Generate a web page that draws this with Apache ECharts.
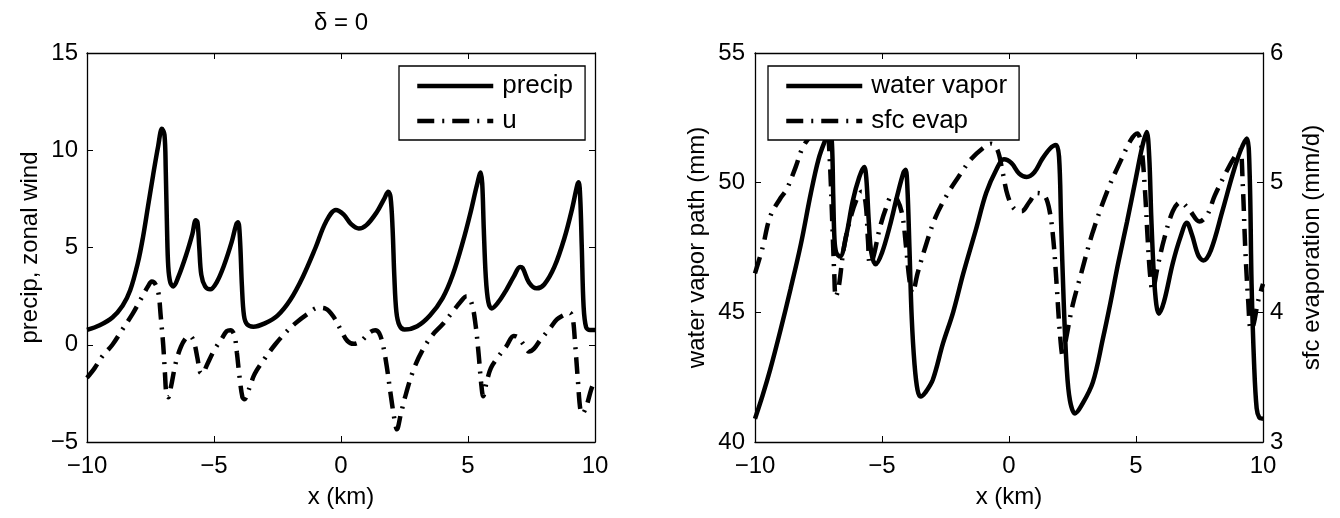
<!DOCTYPE html>
<html>
<head>
<meta charset="utf-8">
<script src="https://cdn.jsdelivr.net/npm/echarts@6/dist/echarts.min.js"></script>
<style>
html,body{margin:0;padding:0;background:#fff;}
#c{width:1340px;height:518px;}
</style>
</head>
<body>
<div id="c"></div>
<script>
// ---- data (x in km) ----
const precipX = [-10,-9.5,-9.0,-8.6,-8.3,-8.0,-7.8,-7.6,-7.4,-7.2,-7.05,-6.95,-6.9,-6.85,-6.8,-6.72,-6.6,-6.4,-6.1,-5.85,-5.72,-5.65,-5.58,-5.5,-5.35,-5.15,-4.9,-4.6,-4.3,-4.12,-4.05,-3.98,-3.9,-3.82,-3.7,-3.45,-3.0,-2.5,-2.0,-1.5,-1.0,-0.6,-0.2,0.1,0.4,0.7,1.0,1.4,1.7,1.86,1.95,2.03,2.1,2.18,2.3,2.5,3.0,3.5,4.0,4.4,4.8,5.1,5.35,5.5,5.56,5.62,5.7,5.8,5.93,6.2,6.5,6.8,7.05,7.15,7.4,7.7,8.0,8.4,8.8,9.1,9.3,9.36,9.42,9.48,9.55,9.65,9.8,10];
const precip  = [0.76,1.0,1.4,2.0,2.8,4.2,5.5,7.1,8.7,10.2,11.1,10.8,9.0,6.0,4.0,3.2,3.0,3.5,4.6,5.7,6.4,6.3,5.0,3.6,3.0,2.85,3.2,4.1,5.3,6.2,6.3,5.5,3.0,1.5,1.05,0.93,1.1,1.5,2.3,3.5,5.0,6.3,6.93,6.7,6.2,5.98,6.15,6.8,7.5,7.87,7.6,6.0,3.5,1.7,1.0,0.78,0.95,1.5,2.4,3.6,5.3,6.8,8.2,8.85,8.3,6.0,3.5,2.2,1.87,2.2,2.8,3.5,4.0,3.95,3.2,2.9,3.1,4.0,5.5,7.0,8.2,8.35,7.5,5.0,2.0,0.9,0.76,0.76];

const uX = [-10,-9.7,-9.4,-9.0,-8.6,-8.2,-7.9,-7.6,-7.45,-7.3,-7.18,-7.1,-7.0,-6.93,-6.87,-6.8,-6.7,-6.5,-6.3,-6.1,-5.95,-5.8,-5.65,-5.55,-5.45,-5.3,-5.0,-4.7,-4.5,-4.35,-4.2,-4.1,-4.0,-3.88,-3.8,-3.6,-3.4,-3.0,-2.6,-2.2,-1.8,-1.3,-0.9,-0.6,-0.3,0.0,0.25,0.5,0.8,1.1,1.35,1.5,1.65,1.8,1.95,2.1,2.2,2.35,2.5,2.85,3.2,3.6,4.0,4.4,4.7,4.95,5.15,5.3,5.42,5.52,5.6,5.72,5.9,6.2,6.5,6.8,6.95,7.2,7.4,7.6,7.85,8.2,8.5,8.8,9.0,9.12,9.22,9.33,9.42,9.5,9.65,9.85,10];
const uWind = [-1.7,-1.2,-0.6,0.0,0.8,1.6,2.3,3.0,3.25,3.1,2.6,1.5,0.0,-1.5,-2.6,-2.7,-2.2,-0.9,-0.1,0.35,0.45,0.2,-0.7,-1.4,-1.5,-1.1,-0.3,0.3,0.7,0.75,0.5,-0.4,-1.6,-2.7,-2.8,-2.2,-1.5,-0.7,0.0,0.6,1.1,1.6,1.9,1.85,1.45,0.75,0.2,0.05,0.2,0.6,0.75,0.6,0.0,-1.1,-2.5,-3.8,-4.35,-3.6,-2.8,-1.3,-0.3,0.5,1.05,1.7,2.2,2.5,2.1,1.0,-0.5,-2.0,-2.65,-2.0,-1.2,-0.6,-0.1,0.45,0.4,0.0,-0.35,-0.2,0.25,0.8,1.3,1.55,1.65,1.4,0.0,-1.9,-3.3,-3.55,-3.2,-2.3,-1.8];

const vaporX = [-10,-9.7,-9.4,-9.0,-8.6,-8.2,-7.8,-7.5,-7.25,-7.05,-6.97,-6.92,-6.87,-6.8,-6.65,-6.4,-6.15,-5.9,-5.7,-5.62,-5.52,-5.42,-5.25,-5.0,-4.7,-4.4,-4.15,-4.07,-4.0,-3.92,-3.83,-3.72,-3.6,-3.48,-3.3,-3.0,-2.6,-2.2,-1.8,-1.3,-0.9,-0.5,-0.2,0.1,0.4,0.7,1.0,1.3,1.6,1.85,1.97,2.05,2.15,2.27,2.4,2.6,2.85,3.3,3.7,4.0,4.3,4.65,5.0,5.25,5.42,5.52,5.6,5.7,5.8,5.9,6.1,6.45,6.75,7.0,7.2,7.45,7.65,7.95,8.4,8.8,9.1,9.36,9.47,9.55,9.65,9.75,9.85,10];
const vapor  = [40.9,41.8,42.8,44.3,45.9,47.6,49.6,50.9,51.6,52.0,51.5,49.5,47.8,47.3,47.15,48.0,49.3,50.2,50.6,50.2,48.5,47.3,46.85,47.3,48.3,49.5,50.4,50.5,49.8,47.5,44.8,43.0,42.0,41.75,41.9,42.4,43.8,45.0,46.5,48.2,49.6,50.5,50.9,50.75,50.35,50.22,50.4,50.9,51.3,51.45,51.0,48.5,45.5,42.9,41.6,41.1,41.4,42.3,44.0,45.4,46.9,48.5,50.2,51.4,51.95,51.0,48.7,46.5,45.3,44.95,45.4,46.9,47.9,48.45,48.0,47.2,47.0,47.4,48.9,50.3,51.2,51.7,50.5,46.1,43.0,41.3,40.95,40.9];

const evapX = [-10,-9.7,-9.4,-9.0,-8.75,-8.4,-8.1,-7.7,-7.3,-7.15,-7.05,-6.95,-6.88,-6.82,-6.7,-6.5,-6.25,-6.0,-5.8,-5.65,-5.55,-5.48,-5.35,-5.1,-4.85,-4.6,-4.4,-4.2,-4.05,-3.92,-3.8,-3.6,-3.3,-2.9,-2.4,-1.9,-1.5,-1.0,-0.7,-0.45,-0.25,-0.05,0.2,0.5,0.8,1.1,1.4,1.6,1.75,1.88,2.0,2.12,2.25,2.5,2.8,3.3,3.9,4.4,4.8,5.05,5.2,5.35,5.45,5.55,5.65,5.85,6.1,6.45,6.75,7.1,7.5,7.8,8.1,8.6,8.95,9.1,9.2,9.3,9.42,9.52,9.62,9.8,10];
const evap  = [4.3,4.5,4.74,4.88,4.95,5.12,5.28,5.38,5.43,5.4,5.15,4.65,4.3,4.12,4.2,4.5,4.72,4.87,4.93,4.85,4.55,4.38,4.42,4.64,4.8,4.9,4.87,4.75,4.5,4.25,4.15,4.3,4.5,4.73,4.92,5.07,5.18,5.27,5.3,5.25,5.08,4.9,4.8,4.78,4.85,4.92,4.9,4.78,4.55,4.2,3.85,3.66,3.8,4.05,4.27,4.62,4.95,5.17,5.33,5.38,5.3,4.95,4.6,4.3,4.17,4.35,4.56,4.78,4.85,4.79,4.7,4.75,4.9,5.1,5.22,5.25,5.0,4.5,4.08,3.87,3.9,4.08,4.22];

const zip = (xs, ys) => xs.map((x, i) => [x, ys[i]]);
const FONT = 'Liberation Sans, Arial, sans-serif';
const fmt = v => String(v).replace('-', '\u2212');
const DASHDOT = [17, 8, 2, 8];
const LW = 4.5;

function xAx(gi, pos, labels) {
  return {
    gridIndex: gi, type: 'value', position: pos, min: -10, max: 10, interval: 5,
    axisLine: { show: true, onZero: false, lineStyle: { color: '#000', width: 1.3 } },
    axisTick: { show: true, inside: true, length: 6, lineStyle: { color: '#000', width: 1 } },
    axisLabel: { show: labels, color: '#000', fontFamily: FONT, fontSize: 24, margin: 12, formatter: fmt },
    splitLine: { show: false },
    name: labels ? 'x (km)' : '', nameLocation: 'middle', nameGap: 43,
    nameTextStyle: { color: '#000', fontFamily: FONT, fontSize: 24 }
  };
}
function yAx(gi, pos, min, max, interval, labels, name, gap, margin) {
  return {
    gridIndex: gi, type: 'value', position: pos, min, max, interval,
    axisLine: { show: true, onZero: false, lineStyle: { color: '#000', width: 1.3 } },
    axisTick: { show: true, inside: true, length: 6, lineStyle: { color: '#000', width: 1 } },
    axisLabel: { show: labels, color: '#000', fontFamily: FONT, fontSize: 24, margin: margin || 9, formatter: fmt },
    splitLine: { show: false },
    name: name || '', nameLocation: 'middle', nameGap: gap || 40,
    nameTextStyle: { color: '#000', fontFamily: FONT, fontSize: 24 }
  };
}

function legendBox(names, left) {
  return {
    data: names, orient: 'vertical', left: left, top: 66,
    itemWidth: 76, itemHeight: 16, itemGap: 9,
    padding: [7, 12, 6, 16], borderColor: '#000', borderWidth: 1.3,
    backgroundColor: '#fff',
    itemStyle: { opacity: 0, borderWidth: 0, color: 'rgba(0,0,0,0)' },
    lineStyle: { width: LW, color: '#000' },
    textStyle: { color: '#000', fontFamily: FONT, fontSize: 26, padding: [0, 0, 0, 4] }
  };
}

const chart = echarts.init(document.getElementById('c'));
chart.setOption({
  animation: false,
  backgroundColor: '#fff',
  graphic: [{
    type: 'text', x: 341, y: 23,
    style: { text: 'δ = 0', fill: '#000', font: '24px ' + FONT, align: 'center', verticalAlign: 'middle' }
  }],
  grid: [
    { left: 87, top: 53, width: 508, height: 389 },
    { left: 755, top: 53, width: 508, height: 389 }
  ],
  xAxis: [
    xAx(0, 'bottom', true), xAx(0, 'top', false),
    xAx(1, 'bottom', true), xAx(1, 'top', false)
  ],
  yAxis: [
    yAx(0, 'left', -5, 15, 5, true, 'precip, zonal wind', 45, 9),
    yAx(0, 'right', -5, 15, 5, false),
    yAx(1, 'left', 40, 55, 5, true, 'water vapor path (mm)', 46, 10),
    yAx(1, 'right', 3, 6, 1, true, 'sfc evaporation (mm/d)', 37, 7)
  ],
  legend: [legendBox(['precip', 'u'], 399), legendBox(['water vapor', 'sfc evap'], 768)],
  series: [
    { name: 'precip', type: 'line', xAxisIndex: 0, yAxisIndex: 0, data: zip(precipX, precip),
      symbol: 'none', smooth: 0.35, z: 3,
      lineStyle: { color: '#000', width: LW }, itemStyle: { color: '#000' } },
    { name: 'u', type: 'line', xAxisIndex: 0, yAxisIndex: 0, data: zip(uX, uWind),
      symbol: 'none', smooth: 0.35, z: 2,
      lineStyle: { color: '#000', width: LW, type: DASHDOT }, itemStyle: { color: '#000' } },
    { name: 'water vapor', type: 'line', xAxisIndex: 2, yAxisIndex: 2, data: zip(vaporX, vapor),
      symbol: 'none', smooth: 0.35, z: 3,
      lineStyle: { color: '#000', width: LW }, itemStyle: { color: '#000' } },
    { name: 'sfc evap', type: 'line', xAxisIndex: 2, yAxisIndex: 3, data: zip(evapX, evap),
      symbol: 'none', smooth: 0.35, z: 2,
      lineStyle: { color: '#000', width: LW, type: DASHDOT }, itemStyle: { color: '#000' } }
  ]
});
</script>
</body>
</html>
